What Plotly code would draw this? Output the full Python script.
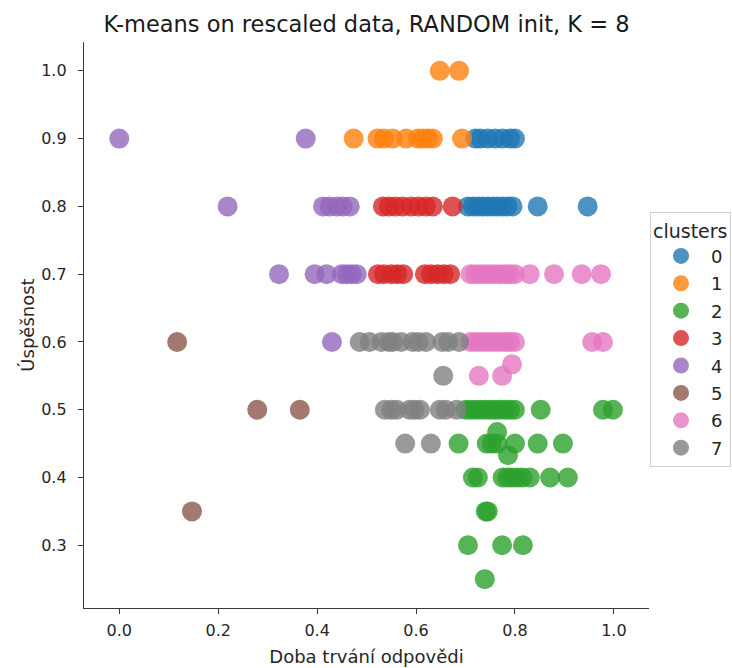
import plotly.graph_objects as go

# ---- data (x: Doba trvání odpovědi, y: Úspěšnost) ----
c0_x = [0.72, 0.73, 0.745, 0.76, 0.775, 0.79, 0.80,
        0.705, 0.715, 0.725, 0.735, 0.745, 0.755, 0.765, 0.775, 0.785, 0.795, 0.846, 0.947]
c0_y = [0.9, 0.9, 0.9, 0.9, 0.9, 0.9, 0.9,
        0.8, 0.8, 0.8, 0.8, 0.8, 0.8, 0.8, 0.8, 0.8, 0.8, 0.8, 0.8]

c1_x = [0.648, 0.687,
        0.474, 0.522, 0.535, 0.553, 0.58, 0.604, 0.614, 0.624, 0.634, 0.693]
c1_y = [1.0, 1.0,
        0.9, 0.9, 0.9, 0.9, 0.9, 0.9, 0.9, 0.9, 0.9, 0.9]

c2_x = [0.70, 0.71, 0.72, 0.73, 0.74, 0.75, 0.76, 0.77, 0.78, 0.79, 0.80, 0.852, 0.978, 0.998,
        0.764,
        0.686, 0.743, 0.753, 0.764, 0.80, 0.846, 0.897,
        0.786,
        0.715, 0.725, 0.775, 0.785, 0.795, 0.805, 0.815, 0.83, 0.871, 0.907,
        0.741, 0.745,
        0.705, 0.774, 0.816,
        0.739]
c2_y = [0.5, 0.5, 0.5, 0.5, 0.5, 0.5, 0.5, 0.5, 0.5, 0.5, 0.5, 0.5, 0.5, 0.5,
        0.467,
        0.45, 0.45, 0.45, 0.45, 0.45, 0.45, 0.45,
        0.433,
        0.4, 0.4, 0.4, 0.4, 0.4, 0.4, 0.4, 0.4, 0.4, 0.4,
        0.35, 0.35,
        0.3, 0.3, 0.3,
        0.25]

c3_x = [0.533, 0.545, 0.558, 0.573, 0.59, 0.605, 0.62, 0.634, 0.674,
        0.523, 0.535, 0.55, 0.562, 0.574, 0.618, 0.63, 0.643, 0.656, 0.669]
c3_y = [0.8, 0.8, 0.8, 0.8, 0.8, 0.8, 0.8, 0.8, 0.8,
        0.7, 0.7, 0.7, 0.7, 0.7, 0.7, 0.7, 0.7, 0.7, 0.7]

c4_x = [0.0, 0.377,
        0.219, 0.412, 0.425, 0.44, 0.452, 0.466,
        0.323, 0.395, 0.419, 0.45, 0.46, 0.47, 0.48,
        0.43]
c4_y = [0.9, 0.9,
        0.8, 0.8, 0.8, 0.8, 0.8, 0.8,
        0.7, 0.7, 0.7, 0.7, 0.7, 0.7, 0.7,
        0.6]

c5_x = [0.117, 0.279, 0.365, 0.147]
c5_y = [0.6, 0.5, 0.5, 0.35]

c6_x = [0.71, 0.72, 0.73, 0.74, 0.75, 0.76, 0.77, 0.78, 0.79, 0.80, 0.83, 0.879, 0.935, 0.974,
        0.71, 0.72, 0.73, 0.74, 0.75, 0.76, 0.77, 0.78, 0.79, 0.80, 0.956, 0.978,
        0.794,
        0.727, 0.774]
c6_y = [0.7, 0.7, 0.7, 0.7, 0.7, 0.7, 0.7, 0.7, 0.7, 0.7, 0.7, 0.7, 0.7, 0.7,
        0.6, 0.6, 0.6, 0.6, 0.6, 0.6, 0.6, 0.6, 0.6, 0.6, 0.6, 0.6,
        0.567,
        0.55, 0.55]

c7_x = [0.486, 0.506, 0.53, 0.545, 0.553, 0.57, 0.593, 0.605, 0.62, 0.653, 0.665, 0.687,
        0.655,
        0.537, 0.55, 0.561, 0.587, 0.597, 0.608, 0.648, 0.66, 0.682,
        0.578, 0.63]
c7_y = [0.6, 0.6, 0.6, 0.6, 0.6, 0.6, 0.6, 0.6, 0.6, 0.6, 0.6, 0.6,
        0.55,
        0.5, 0.5, 0.5, 0.5, 0.5, 0.5, 0.5, 0.5, 0.5,
        0.45, 0.45]

cluster_names = ["0", "1", "2", "3", "4", "5", "6", "7"]
cluster_x = [c0_x, c1_x, c2_x, c3_x, c4_x, c5_x, c6_x, c7_x]
cluster_y = [c0_y, c1_y, c2_y, c3_y, c4_y, c5_y, c6_y, c7_y]
colors = ["#1f77b4", "#ff7f0e", "#2ca02c", "#d62728",
          "#9467bd", "#8c564b", "#e377c2", "#7f7f7f"]

x_ticks = [0.0, 0.2, 0.4, 0.6, 0.8, 1.0]
y_ticks = [0.3, 0.4, 0.5, 0.6, 0.7, 0.8, 0.9, 1.0]

FONT = "DejaVu Sans"
TXT = "#262626"
SPINE = "#3a3a3a"

fig = go.Figure()
for name, xs, ys, col in zip(cluster_names, cluster_x, cluster_y, colors):
    fig.add_trace(go.Scatter(
        x=xs, y=ys, mode="markers", name=name, legendgroup=name,
        marker=dict(size=20, color=col, opacity=0.8, line=dict(width=0)),
    ))

fig.update_layout(
    width=732, height=668,
    margin=dict(l=84, r=83, t=42, b=60, autoexpand=False),
    plot_bgcolor="white", paper_bgcolor="white",
    font=dict(family=FONT, color=TXT, size=16),
    title=dict(text="K-means on rescaled data, RANDOM init, K = 8",
               font=dict(family=FONT, size=22.5, color="#1a1a1a"),
               x=0.5, xref="paper", xanchor="center",
               y=1 - 24 / 668, yref="container", yanchor="middle"),
    legend=dict(
        title=dict(text="clusters", font=dict(family=FONT, size=19, color=TXT)),
        font=dict(family=FONT, size=18, color=TXT),
        x=650 / 732, xref="container", xanchor="left",
        y=1 - 212 / 668, yref="container", yanchor="top",
        bgcolor="white", bordercolor="#d0d0d0", borderwidth=1,
        itemsizing="trace", itemwidth=50, tracegroupgap=1,
    ),
    showlegend=True,
)

fig.update_xaxes(
    range=[-0.0713, 1.071], tickvals=x_ticks, ticktext=[f"{v:.1f}" for v in x_ticks],
    showline=True, linecolor=SPINE, linewidth=1.3, mirror=False,
    showgrid=False, zeroline=False,
    ticks="outside", ticklen=5, tickwidth=1.2, tickcolor=SPINE, ticklabelstandoff=3,
    tickfont=dict(family=FONT, size=16, color=TXT),
    title=dict(text="Doba trvání odpovědi", font=dict(family=FONT, size=18, color=TXT), standoff=11),
)
fig.update_yaxes(
    range=[0.2075, 1.0425], tickvals=y_ticks, ticktext=[f"{v:.1f}" for v in y_ticks],
    showline=True, linecolor=SPINE, linewidth=1.3, mirror=False,
    showgrid=False, zeroline=False,
    ticks="outside", ticklen=5, tickwidth=1.2, tickcolor=SPINE, ticklabelstandoff=8,
    tickfont=dict(family=FONT, size=16, color=TXT),
    title=dict(text="Úspěšnost", font=dict(family=FONT, size=18, color=TXT), standoff=1),
)

fig.write_html("out.html")
